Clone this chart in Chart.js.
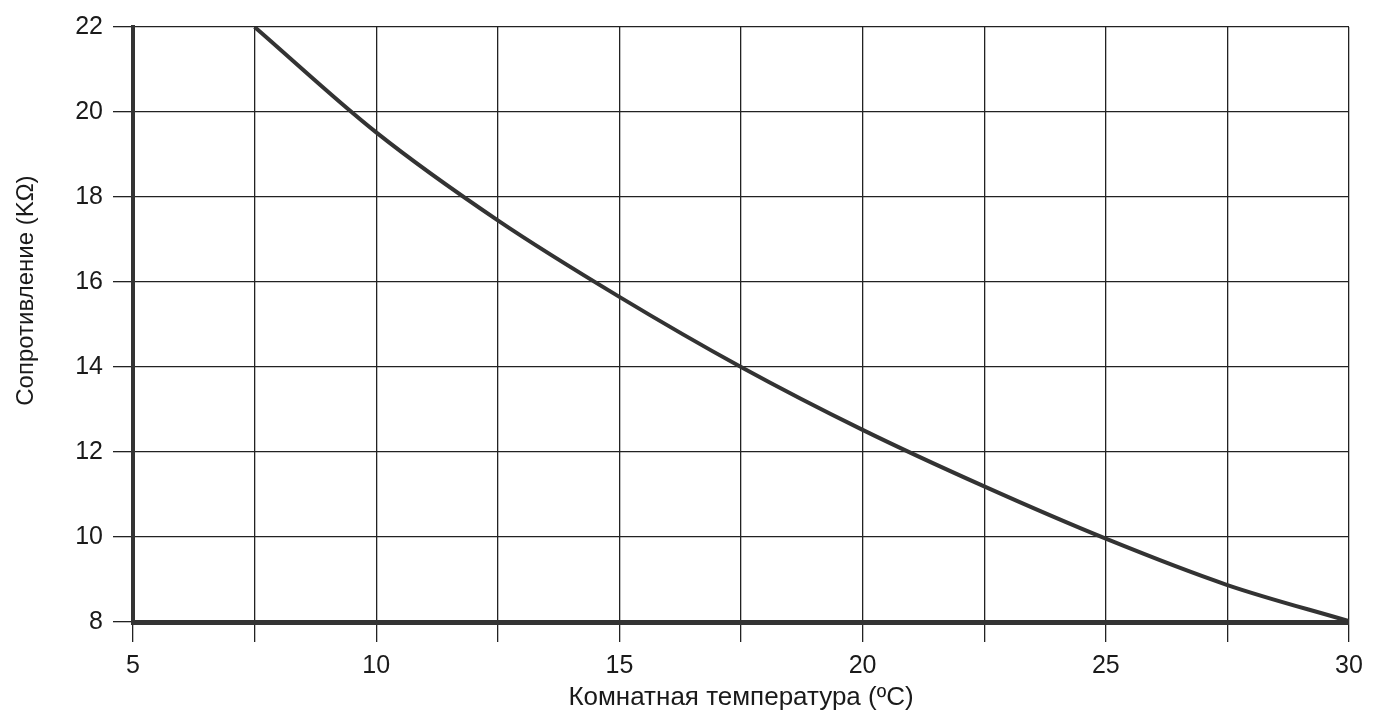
<!DOCTYPE html>
<html>
<head>
<meta charset="utf-8">
<script src="https://cdn.jsdelivr.net/npm/chart.js@4/dist/chart.umd.min.js"></script>
<style>
html,body{margin:0;padding:0;background:#fff;}
#wrap{width:1373px;height:718px;position:relative;}
</style>
</head>
<body>
<div id="wrap"><canvas id="c" width="1373" height="718"></canvas></div>
<script>
const temperatures = [7.5, 10, 12.5, 15, 17.5, 20, 22.5, 25, 27.5, 30];
const resistance   = [22, 19.52, 17.45, 15.65, 14.0, 12.52, 11.19, 9.96, 8.87, 8.02];
const xTicks = [5, 10, 15, 20, 25, 30];
const yTicks = [8, 10, 12, 14, 16, 18, 20, 22];
const xTitle = 'Комнатная температура (ºC)';
const yTitle = 'Сопротивление (KΩ)';

const points = temperatures.map((t, i) => ({x: t, y: resistance[i]}));
const FONT = "'Liberation Sans', Arial, sans-serif";
const ink = '#1a1a1a';

// y-axis title drawn as real canvas text, placed slightly above the plot's middle like the reference
const yTitlePlugin = {
  id: 'yTitle',
  afterDraw(chart) {
    const ctx = chart.ctx;
    const area = chart.chartArea;
    ctx.save();
    ctx.translate(26, area.top + (area.bottom - area.top) * 0.443);
    ctx.rotate(-Math.PI / 2);
    ctx.fillStyle = ink;
    ctx.font = "24px 'Liberation Sans', Arial, sans-serif";
    ctx.textAlign = 'center';
    ctx.textBaseline = 'middle';
    ctx.fillText(yTitle, 0, 0);
    ctx.restore();
  }
};

new Chart(document.getElementById('c'), {
  type: 'scatter',
  data: {
    datasets: [{
      data: points,
      showLine: true,
      borderColor: '#333',
      borderWidth: 4,
      pointRadius: 0,
      cubicInterpolationMode: 'monotone',
      fill: false
    }]
  },
  plugins: [yTitlePlugin],
  options: {
    responsive: false,
    animation: false,
    devicePixelRatio: 1,
    layout: {padding: {left: 0, right: 24, top: 27, bottom: 0}},
    plugins: {legend: {display: false}, tooltip: {enabled: false}},
    scales: {
      x: {
        type: 'linear',
        min: 5, max: 30,
        afterBuildTicks: (s) => { const t = []; for (let v = 5; v <= 30.001; v += 2.5) t.push({value: v}); s.ticks = t; },
        afterFit: (s) => { s.height = 96; },
        ticks: {
          color: ink,
          font: {family: FONT, size: 25},
          padding: 9,
          maxRotation: 0,
          callback: (v) => xTicks.includes(v) ? String(v) : ''
        },
        grid: {color: '#222', lineWidth: 1.3, tickLength: 20, drawTicks: true},
        border: {display: true, color: '#333', width: 5},
        title: {display: true, text: xTitle, color: ink, font: {family: FONT, size: 26}, padding: {top: 2, bottom: 5}}
      },
      y: {
        type: 'linear',
        min: 8, max: 22,
        afterBuildTicks: (s) => { s.ticks = yTicks.map(v => ({value: v})); },
        afterFit: (s) => { s.width = 133; },
        ticks: {
          color: ink,
          font: {family: FONT, size: 25},
          padding: 10
        },
        grid: {color: '#222', lineWidth: 1.3, tickLength: 20, drawTicks: true},
        border: {display: true, color: '#333', width: 4},
        title: {display: false}
      }
    }
  }
});
</script>
</body>
</html>
